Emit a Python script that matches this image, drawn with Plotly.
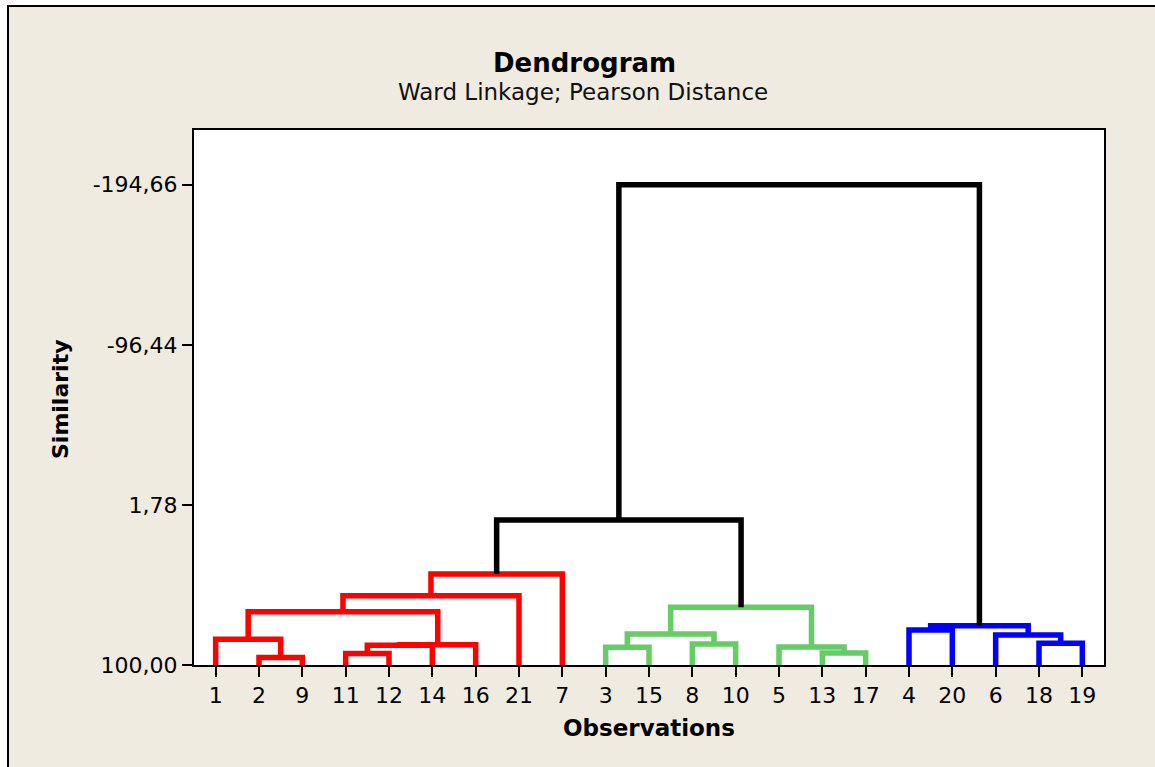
import plotly.graph_objects as go

# orden de las observaciones en el eje x
leaf_order = [1, 2, 9, 11, 12, 14, 16, 21, 7, 3, 15, 8, 10, 5, 13, 17, 4, 20, 6, 18, 19]

# pasos de amalgamacion (cluster izq, cluster der, similitud)
# un cluster es una observacion (int) o un paso previo "sN"
step_left = [2, 11, 13, 3, 5, "s2", "s6", 8, 18, 1, 6, "s4", 4, "s13",
             "s10", "s12", "s15", "s17", "s18", "s19"]
step_right = [9, 12, 17, 15, "s3", 14, 16, 10, 19, "s1", "s9", "s8", 20, "s11",
              "s7", "s5", 21, 7, "s16", "s14"]
step_sim = [95.4, 93.0, 92.6, 89.1, 89.0, 87.9, 87.6, 87.1, 86.7, 84.2, 81.6,
            81.0, 78.5, 75.9, 67.3, 64.6, 57.5, 44.2, 11.0, -194.66]

# ticks del eje y
y_tick_vals = [100.0, 1.78, -96.44, -194.66]
y_tick_text = ["100,00", "1,78", "-96,44", "-194,66"]

n_clusters = 3
colores = ["#FF0000", "#66CC66", "#0000FF"]
color_top = "#000000"
beige = "#EFEBE1"

# posicion y altura de cada nodo
pos = {obs: i + 1 for i, obs in enumerate(leaf_order)}
alt = {obs: 100.0 for obs in leaf_order}
hijos = {}
for i, (a, b, s) in enumerate(zip(step_left, step_right, step_sim)):
    key = f"s{i + 1}"
    pos[key] = (pos[a] + pos[b]) / 2
    alt[key] = s
    hijos[key] = (a, b)

pasos = list(hijos.keys())
top_steps = pasos[len(pasos) - (n_clusters - 1):]

# raices de los clusters finales, de izquierda a derecha
raices = [c for k in top_steps for c in hijos[k] if c not in top_steps]
raices = sorted(raices, key=lambda c: pos[c])

color_paso = {k: color_top for k in top_steps}
for j, r in enumerate(raices):
    pila = [r]
    while pila:
        n = pila.pop()
        if n in hijos:
            color_paso[n] = colores[j]
            pila.extend(hijos[n])

# segmentos por color
segs = {}
for k in pasos:
    a, b = hijos[k]
    c = color_paso[k]
    xs, ys = segs.setdefault(c, ([], []))
    xs += [pos[a], pos[a], pos[b], pos[b], None]
    ys += [alt[a], alt[k], alt[k], alt[b], None]

fig = go.Figure()
for c, (xs, ys) in segs.items():
    fig.add_trace(go.Scatter(
        x=xs, y=ys, mode="lines",
        line=dict(color=c, width=5.5),
        hoverinfo="skip", showlegend=False,
    ))

# area de grafico en pixeles
L, R, T, B = 194, 1104, 130, 665
W, H = 1155, 767
pw, ph = R - L, B - T


def px_x(sx):
    return (sx - L) / pw


def px_y(sy):
    return (B - sy) / ph


fig.update_layout(
    width=W, height=H,
    margin=dict(l=L, r=W - R, t=T, b=H - B),
    paper_bgcolor="white",
    plot_bgcolor="white",
    font=dict(family="DejaVu Sans", size=22, color="#000000"),
    showlegend=False,
    shapes=[
        # marco exterior beige
        dict(type="rect", xref="paper", yref="paper", layer="below",
             x0=px_x(8), x1=px_x(W + 20), y0=px_y(H + 20), y1=px_y(6),
             fillcolor=beige, line=dict(color="#000000", width=2)),
        dict(type="rect", xref="paper", yref="paper", layer="below",
             x0=0, x1=1, y0=0, y1=1,
             fillcolor="white", line=dict(width=0)),
    ],
    annotations=[
        dict(text="<b>Dendrogram</b>", x=px_x(584), y=px_y(63), xref="paper", yref="paper",
             showarrow=False, xanchor="center", yanchor="middle",
             font=dict(size=26, color="#000000")),
        dict(text="Ward Linkage; Pearson Distance", x=px_x(583), y=px_y(92),
             xref="paper", yref="paper", showarrow=False,
             xanchor="center", yanchor="middle", font=dict(size=23, color="#111111")),
        dict(text="<b>Observations</b>", x=px_x(649), y=px_y(728),
             xref="paper", yref="paper", showarrow=False,
             xanchor="center", yanchor="middle", font=dict(size=23)),
        dict(text="<b>Similarity</b>", x=px_x(60), y=px_y(399), textangle=-90,
             xref="paper", yref="paper", showarrow=False,
             xanchor="center", yanchor="middle", font=dict(size=22)),
    ],
)

fig.update_xaxes(
    range=[0.5, len(leaf_order) + 0.5],
    tickmode="array",
    tickvals=list(range(1, len(leaf_order) + 1)),
    ticktext=[str(o) for o in leaf_order],
    ticks="outside", ticklen=10, tickwidth=1.5, tickcolor="#000000",
    showgrid=False, zeroline=False,
    showline=True, linecolor="#000000", linewidth=2, mirror=True,
    fixedrange=True,
)
fig.update_yaxes(
    range=[100, 100 - (B - T) * 0.6135],
    tickmode="array",
    tickvals=y_tick_vals,
    ticktext=y_tick_text,
    ticks="outside", ticklen=10, tickwidth=1.5, tickcolor="#000000",
    showgrid=False, zeroline=False,
    showline=True, linecolor="#000000", linewidth=2, mirror=True,
    fixedrange=True,
)

# sin margen del body para que la figura ocupe toda la ventana
fig.write_html(
    "out.html",
    config={"displayModeBar": False},
    post_script="document.body.style.margin='0';document.body.style.overflow='hidden';",
)
